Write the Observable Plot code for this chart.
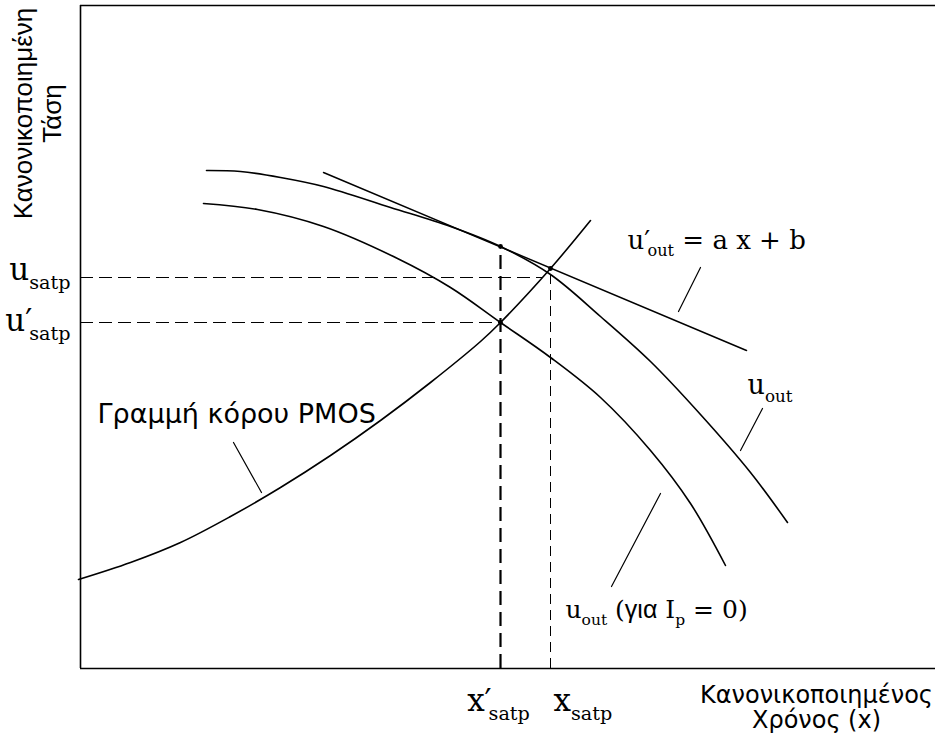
<!DOCTYPE html>
<html>
<head>
<meta charset="utf-8">
<script src="https://cdn.jsdelivr.net/npm/d3@7"></script>
<script src="https://cdn.jsdelivr.net/npm/@observablehq/plot@0.6"></script>
<style>
  body { margin: 0; background: #fff; }
</style>
</head>
<body>
<div id="chart"></div>
<script>
// Normalized time (x) vs normalized voltage (y), in chart units.

// Output voltage u_out
const uOut = [
  [1.26, 4.98], [1.60, 4.97], [2.00, 4.91], [2.43, 4.82], [3.10, 4.61],
  [3.70, 4.42], [4.20, 4.22], [4.70, 3.94], [5.20, 3.52], [5.70, 3.07],
  [6.20, 2.54], [6.70, 1.96], [7.07, 1.46]
];

// Output voltage with I_p = 0
const uOutIp0 = [
  [1.23, 4.65], [1.77, 4.59], [2.43, 4.42], [3.17, 4.10], [3.70, 3.81],
  [4.20, 3.46], [4.70, 3.11], [5.20, 2.71], [5.70, 2.18], [6.10, 1.65],
  [6.45, 1.03]
];

// PMOS saturation boundary
const pmosSat = [
  [-0.02, 0.89], [0.50, 1.06], [1.00, 1.26], [1.50, 1.52], [2.00, 1.81],
  [2.50, 2.13], [3.00, 2.48], [3.50, 2.86], [4.00, 3.27], [4.20, 3.46],
  [4.70, 4.00], [5.10, 4.48]
];

// Linear approximation u'_out = a x + b
const tangent = [[2.43, 4.96], [6.66, 3.18]];

// Saturation points
const xSatpPrime = 4.20, xSatp = 4.70;
const uSatp = 3.91, uSatpPrime = 3.46;
const uTangentAtXp = 4.22, uTangentAtX = 4.00;
const uSatpGuideEnd = 4.63;

const markers = [[xSatpPrime, uTangentAtXp], [xSatp, uTangentAtX], [xSatpPrime, uSatpPrime]];

// Leader lines from annotations to curves
const leaders = [
  [[1.53, 2.26], [1.81, 1.76]],
  [[6.20, 4.01], [5.98, 3.57]],
  [[6.82, 2.60], [6.60, 2.18]],
  [[5.80, 1.75], [5.31, 0.82]]
];

// Annotations (anchor at text start, baseline)
const sansNotes = [{x: 0.17, y: 2.46, text: "Γραμμή κόρου PMOS"}];
const mathNotes = [
  {x: 5.47, y: 4.20, text: "u′_{out} = a x + b", size: 26},
  {x: 6.67, y: 2.75, text: "u_{out}", size: 27},
  {x: 4.85, y: 0.51, text: "u_{out} ([για] I_{p} = 0)", size: 25}
];

const yTitle = "Κανονικοποιημένη\nΤάση";
const xTitle = "Κανονικοποιημένος\nΧρόνος (x)";

const serif = "'DejaVu Serif', 'Liberation Serif', serif";
const sans = "'Liberation Sans', Arial, sans-serif";
const wideSans = "'DejaVu Sans', 'Liberation Sans', sans-serif";

const X = d => d[0], Y = d => d[1];

const chart = Plot.plot({
  width: 935,
  height: 749,
  marginLeft: 80,
  marginRight: 0,
  marginTop: 5,
  marginBottom: 81,
  x: {domain: [0, 8.55], axis: null},
  y: {domain: [0, 6.63], axis: null},
  style: {background: "white", color: "black"},
  marks: [
    // frame: left, bottom, top
    Plot.ruleX([0], {strokeWidth: 1.6}),
    Plot.ruleY([0], {strokeWidth: 1.6}),
    Plot.ruleY([6.63], {strokeWidth: 1.6}),

    // dashed guides
    Plot.ruleY([uSatp], {x1: 0, x2: uSatpGuideEnd, strokeWidth: 1, strokeDasharray: "13,6"}),
    Plot.ruleY([uSatpPrime], {x1: 0, x2: xSatpPrime, strokeWidth: 1, strokeDasharray: "13,6"}),
    Plot.ruleX([xSatpPrime], {y1: 0, y2: uTangentAtXp, strokeWidth: 2.2, strokeDasharray: "14,7"}),
    Plot.ruleX([xSatp], {y1: 0, y2: uTangentAtX, strokeWidth: 1, strokeDasharray: "10,6"}),

    // curves
    Plot.line(uOut, {x: X, y: Y, curve: "catmull-rom", strokeWidth: 1.6}),
    Plot.line(uOutIp0, {x: X, y: Y, curve: "catmull-rom", strokeWidth: 1.6}),
    Plot.line(pmosSat, {x: X, y: Y, curve: "catmull-rom", strokeWidth: 1.6}),
    Plot.line(tangent, {x: X, y: Y, strokeWidth: 1.5}),

    Plot.dot(markers, {x: X, y: Y, r: 2.4, fill: "black", stroke: null}),

    // leaders
    ...leaders.map(seg => Plot.line(seg, {x: X, y: Y, strokeWidth: 1.2})),

    // annotations
    Plot.text(sansNotes, {x: "x", y: "y", text: "text", textAnchor: "start", lineAnchor: "bottom",
      fontFamily: wideSans, fontSize: 27}),
    ...mathNotes.map(n => Plot.text([n], {x: "x", y: "y", text: "text", textAnchor: "start", lineAnchor: "bottom",
      fontFamily: serif, fontSize: n.size})),

    // y tick labels
    Plot.text([uSatp], {x: 0, y: d => d, text: () => "u_{satp}", textAnchor: "end", lineAnchor: "bottom",
      dx: -10, dy: 2, fontFamily: serif, fontSize: 31}),
    Plot.text([uSatpPrime], {x: 0, y: d => d, text: () => "u′_{satp}", textAnchor: "end", lineAnchor: "bottom",
      dx: -10, dy: 8, fontFamily: serif, fontSize: 31}),

    // x tick labels
    Plot.text([xSatpPrime], {x: d => d, y: 0, text: () => "x′_{satp}", textAnchor: "middle", lineAnchor: "bottom",
      dx: -2, dy: 42, fontFamily: serif, fontSize: 31}),
    Plot.text([xSatp], {x: d => d, y: 0, text: () => "x_{satp}", textAnchor: "start", lineAnchor: "bottom",
      dx: 3, dy: 42, fontFamily: serif, fontSize: 31}),

    // axis titles
    Plot.text([yTitle], {x: 0, y: 5.55, text: d => d, rotate: -90, textAnchor: "middle", lineAnchor: "middle",
      lineHeight: 1.08, dx: -43, fontFamily: sans, fontSize: 26}),
    Plot.text([xTitle], {x: 7.36, y: 0, text: d => d, textAnchor: "middle", lineAnchor: "top",
      lineHeight: 1.04, dy: 17, fontFamily: wideSans, fontSize: 24})
  ]
});

document.getElementById("chart").appendChild(chart);

// Turn "_{..}" into subscripts, "[..]" into sans-serif runs, and tuck subscripts under primes.
function parse(s) {
  const out = [];
  let i = 0;
  while (i < s.length) {
    if (s.startsWith("_{", i)) {
      const j = s.indexOf("}", i);
      out.push({t: s.slice(i + 2, j), sub: true});
      i = j + 1;
    } else if (s[i] === "[") {
      const j = s.indexOf("]", i);
      out.push({t: s.slice(i + 1, j), sans: true});
      i = j + 1;
    } else if (s[i] === "′") {
      out.push({t: "′", prime: true});
      i++;
    } else {
      let j = i;
      while (j < s.length && !s.startsWith("_{", j) && s[j] !== "[" && s[j] !== "′") j++;
      out.push({t: s.slice(i, j)});
      i = j;
    }
  }
  return out;
}

d3.select(chart).selectAll("text").each(function() {
  if (this.querySelector("tspan")) return;
  const s = this.textContent;
  if (!/_\{|\[|′/.test(s)) return;
  const size = parseFloat(getComputedStyle(this).fontSize) || 26;
  const el = d3.select(this);
  el.text(null);
  let shift = 0, prevPrime = false;
  for (const p of parse(s)) {
    const ts = el.append("tspan").text(p.t);
    if (p.sub) {
      ts.attr("font-size", size * 0.62).attr("dy", size * 0.3 - shift);
      shift = size * 0.3;
      if (prevPrime) ts.attr("dx", -size * 0.1);
    } else {
      if (shift) { ts.attr("dy", -shift); shift = 0; }
      if (p.sans) ts.attr("font-family", sans);
    }
    prevPrime = !!p.prime;
  }
});
</script>
</body>
</html>
